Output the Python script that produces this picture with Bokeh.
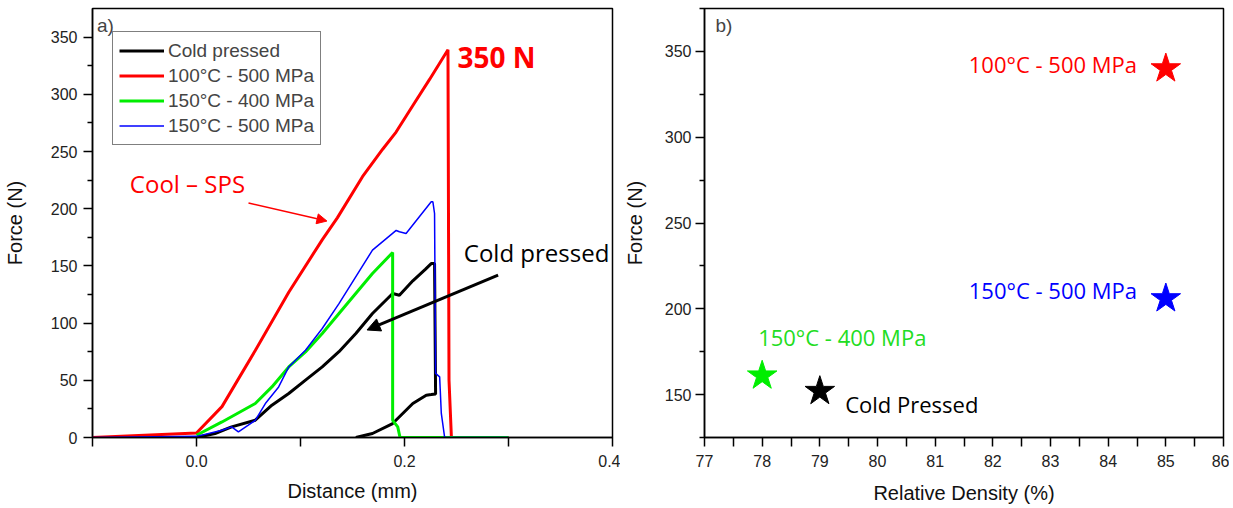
from bokeh.plotting import figure
from bokeh.layouts import row
from bokeh.models import (FixedTicker, Label, Arrow, NormalHead, Legend, LegendItem,
                          Range1d, NumeralTickFormatter)
from bokeh.embed import file_html
from bokeh.resources import INLINE

# ---------------- data: panel a) force vs distance ----------------
cold_x = [0.0, 0.0178, 0.0338, 0.0565, 0.0725, 0.0887, 0.1048, 0.1209, 0.137, 0.1532,
          0.1692, 0.1886, 0.1951, 0.208, 0.220, 0.2257, 0.2289, 0.2299, 0.2257, 0.2209,
          0.208, 0.1886, 0.1692, 0.1532]
cold_y = [0, 3.5, 9.3, 15.1, 28.2, 38.5, 50.1, 61.7, 75, 90.9,
          108.4, 125.9, 124.4, 137, 147, 152, 152, 38, 37.5, 37,
          29.7, 12.2, 3.5, 0]

red_x = [-0.1, 0.0, 0.0245, 0.0565, 0.0887, 0.121, 0.1354, 0.1596, 0.179, 0.1919,
         0.2079, 0.2241, 0.2418, 0.2428, 0.2451, 0.30]
red_y = [0, 4, 27, 76, 127, 173, 192, 228, 252, 267,
         290, 313, 339, 50, 0, 0]

green_x = [0.0, 0.0245, 0.0565, 0.0725, 0.0887, 0.1048, 0.1209, 0.137, 0.1692, 0.1886,
           0.1886, 0.1935, 0.1957, 0.30]
green_y = [2, 13.6, 29.7, 44.2, 61.7, 74.8, 90.9, 108.4, 143.4, 161.7,
           15, 9.3, 0, 0]

blue_x = [-0.1, 0.0, 0.0245, 0.0338, 0.0403, 0.0565, 0.0662, 0.079, 0.0887, 0.1048,
          0.1209, 0.137, 0.1692, 0.192, 0.1951, 0.2015, 0.2257, 0.2273, 0.2289, 0.2299,
          0.2338, 0.2354, 0.2386, 0.30]
blue_y = [0, 1, 6.4, 9.3, 4.9, 15, 29.7, 44.2, 61.7, 76.3,
          95.3, 117, 163.8, 181, 179.8, 178.4, 206, 206, 195.8, 56,
          53, 21, 0, 0]

series_names = ["Cold pressed", "100°C - 500 MPa", "150°C - 400 MPa", "150°C - 500 MPa"]

# ---------------- data: panel b) force vs relative density ----------------
density = [79, 85, 78, 85]
peak_force = [152, 340, 161, 206]
point_labels = ["Cold Pressed", "100°C - 500 MPa", "150°C - 400 MPa", "150°C - 500 MPa"]

x_ticks_a = [0.0, 0.2, 0.4]
x_minor_a = [-0.1, 0.1, 0.3]
y_ticks = [0, 50, 100, 150, 200, 250, 300, 350]
y_minor_a = [25, 75, 125, 175, 225, 275, 325]
x_ticks_b = [77, 78, 79, 80, 81, 82, 83, 84, 85, 86]
x_minor_b = [77.5, 78.5, 79.5, 80.5, 81.5, 82.5, 83.5, 84.5, 85.5]
y_ticks_b = [150, 200, 250, 300, 350]
y_minor_b = [125, 175, 225, 275, 325, 375]

RED = "#ff0000"
GREEN = "#00ee00"
BLUE = "#0000ff"
BLACK = "#000000"
GREEN_TXT = "#22dd22"

AX_FONT = "'Liberation Sans Narrow', 'Liberation Sans', Arial, sans-serif"
ANN_FONT = "'Open Sans', sans-serif"


def style_axes(p, xminor_out):
    p.outline_line_color = "black"
    p.outline_line_width = 1.5
    p.outline_line_alpha = 1
    p.xgrid.visible = False
    p.ygrid.visible = False
    for ax in (p.xaxis, p.yaxis):
        ax.axis_line_width = 1.5
        ax.axis_line_color = "black"
        ax.major_tick_in = 0
        ax.minor_tick_in = 0
        ax.major_tick_out = 9
        ax.major_tick_line_width = 1.5
        ax.minor_tick_line_width = 1.5
        ax.major_label_text_font = AX_FONT
        ax.major_label_text_font_size = "16px"
        ax.major_label_text_color = "#222222"
        ax.axis_label_text_font = AX_FONT
        ax.axis_label_text_font_size = "20px"
        ax.axis_label_text_font_style = "normal"
        ax.axis_label_text_color = "#111111"
    p.yaxis.minor_tick_out = 5
    p.xaxis.minor_tick_out = xminor_out


# ---------------- panel a ----------------
p1 = figure(frame_width=520, frame_height=429, x_range=Range1d(-0.1, 0.4), y_range=Range1d(0, 375),
            output_backend="svg", toolbar_location=None,
            min_border_left=89, min_border_right=8, min_border_top=8, min_border_bottom=60)
style_axes(p1, 9)
p1.xaxis.ticker = FixedTicker(ticks=x_ticks_a, minor_ticks=x_minor_a)
p1.xaxis.formatter = NumeralTickFormatter(format="0.0")
p1.yaxis.ticker = FixedTicker(ticks=y_ticks, minor_ticks=y_minor_a)
p1.xaxis.axis_label = "Distance (mm)"
p1.yaxis.axis_label = "Force (N)"
p1.xaxis.major_label_standoff = 8
p1.xaxis.axis_label_standoff = 10
p1.yaxis.major_label_standoff = 6
p1.yaxis.axis_label_standoff = 22

r_black = p1.line(cold_x, cold_y, line_color=BLACK, line_width=3)
r_red = p1.line(red_x, red_y, line_color=RED, line_width=3)
r_green = p1.line(green_x, green_y, line_color=GREEN, line_width=3)
r_blue = p1.line(blue_x, blue_y, line_color=BLUE, line_width=1.5)

legend = Legend(items=[LegendItem(label=series_names[0], renderers=[r_black]),
                       LegendItem(label=series_names[1], renderers=[r_red]),
                       LegendItem(label=series_names[2], renderers=[r_green]),
                       LegendItem(label=series_names[3], renderers=[r_blue])],
                location=(20, 292), glyph_width=45, glyph_height=25, label_height=25,
                spacing=0, padding=6, margin=0, label_standoff=4,
                label_text_font="'Liberation Sans', Arial, sans-serif",
                label_text_font_size="19px", border_line_color="black",
                border_line_width=1, background_fill_alpha=1)
p1.add_layout(legend)

p1.add_layout(Label(x=-0.0957, y=369, text="a)", text_font="'Liberation Sans', Arial, sans-serif",
                    text_font_size="19px", text_baseline="top", text_align="left"))
p1.add_layout(Label(x=0.251, y=332.5, text="350 N", text_font=ANN_FONT, text_font_size="28px",
                    text_font_style="bold", text_color=RED, text_baseline="middle"))
p1.add_layout(Label(x=-0.0641, y=222, text="Cool – SPS", text_font=ANN_FONT, text_font_size="24px",
                    text_color=RED, text_baseline="middle"))
p1.add_layout(Label(x=0.257, y=162, text="Cold pressed", text_font=ANN_FONT, text_font_size="24px",
                    text_color=BLACK, text_baseline="middle"))
p1.add_layout(Arrow(x_start=0.05, y_start=205, x_end=0.1254, y_end=189.2,
                    line_color=RED, line_width=1.5,
                    end=NormalHead(size=10, fill_color=RED, line_color=RED, line_width=1)))
p1.add_layout(Arrow(x_start=0.29, y_start=142, x_end=0.164, y_end=94,
                    line_color=BLACK, line_width=3,
                    end=NormalHead(size=13, fill_color=BLACK, line_color=BLACK, line_width=1)))

# ---------------- panel b ----------------
p2 = figure(frame_width=519, frame_height=429, x_range=Range1d(77, 86), y_range=Range1d(125, 375),
            output_backend="svg", toolbar_location=None,
            min_border_left=83, min_border_right=6, min_border_top=8, min_border_bottom=60)
style_axes(p2, 9)
p2.xaxis.ticker = FixedTicker(ticks=x_ticks_b, minor_ticks=x_minor_b)
p2.yaxis.ticker = FixedTicker(ticks=y_ticks_b, minor_ticks=y_minor_b)
p2.xaxis.axis_label = "Relative Density (%)"
p2.yaxis.axis_label = "Force (N)"
p2.xaxis.major_label_standoff = 8
p2.xaxis.axis_label_standoff = 12
p2.yaxis.major_label_standoff = 4
p2.yaxis.axis_label_standoff = 16

star_colors = [BLACK, RED, GREEN, BLUE]
p2.scatter(density, peak_force, marker="star", size=31, fill_color=star_colors,
           line_color=star_colors)

label_colors = [BLACK, RED, GREEN_TXT, BLUE]
label_pos = [(79.44, 144.8, "left"), (84.5, 342.5, "right"), (77.93, 183.6, "left"),
             (84.5, 210.9, "right")]
for txt, col, (lx, ly, al) in zip(point_labels, label_colors, label_pos):
    p2.add_layout(Label(x=lx, y=ly, text=txt, text_font=ANN_FONT, text_font_size="22px",
                        text_color=col, text_align=al, text_baseline="middle"))
p2.add_layout(Label(x=77.19, y=371, text="b)", text_font="'Liberation Sans', Arial, sans-serif",
                    text_font_size="19px", text_baseline="top", text_align="left"))

layout = row(p1, p2)
open("out.html", "w").write(file_html(layout, INLINE))
